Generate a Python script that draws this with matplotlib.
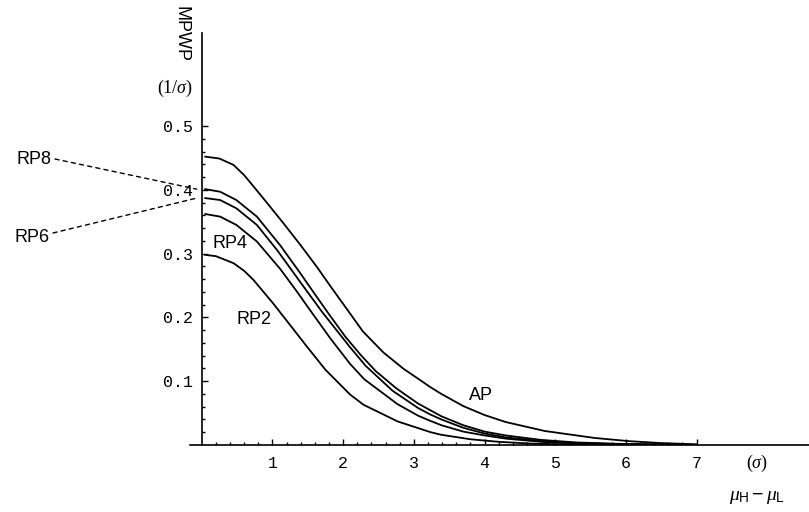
"""
plot.py - MPWP versus mean shift (mu_H - mu_L) for the AP and RP2..RP8 charts.
"""

import numpy as np
import matplotlib
matplotlib.use('Agg')
import matplotlib.pyplot as plt

# ── Data ───────────────────────────────────────────────────────────────────────
x_ap = [0.05, 0.25, 0.45, 0.6, 0.75, 0.92, 1.16, 1.4, 1.63, 1.82, 2.06, 2.28, 2.57,
        2.86, 3.06, 3.23, 3.39, 3.7, 4.0, 4.3, 4.85, 5.56, 6.05, 6.5, 7.0]
y_ap = [0.452, 0.449, 0.439, 0.423, 0.403, 0.380, 0.347, 0.313, 0.279, 0.249, 0.212,
        0.178, 0.145, 0.119, 0.104, 0.091, 0.080, 0.061, 0.047, 0.036, 0.022, 0.011,
        0.006, 0.003, 0.001]

x_rp8 = [0.05, 0.26, 0.49, 0.78, 1.11, 1.39, 1.54, 1.8, 2.03, 2.25, 2.46, 2.75, 3.06,
         3.39, 3.7, 4.0, 4.3, 4.8, 5.3, 6.0, 7.0]
y_rp8 = [0.401, 0.397, 0.384, 0.358, 0.313, 0.270, 0.246, 0.205, 0.170, 0.141, 0.116,
         0.089, 0.065, 0.045, 0.031, 0.021, 0.015, 0.008, 0.004, 0.0015, 0.0003]

x_rp6 = [0.05, 0.26, 0.49, 0.78, 1.07, 1.39, 1.7, 2.0, 2.1, 2.32, 2.7, 3.06, 3.23,
         3.39, 3.7, 4.0, 4.3, 4.8, 5.3, 6.0, 7.0]
y_rp6 = [0.387, 0.384, 0.371, 0.345, 0.305, 0.256, 0.209, 0.167, 0.153, 0.124, 0.085,
         0.058, 0.048, 0.040, 0.027, 0.018, 0.012, 0.006, 0.003, 0.001, 0.0002]

x_rp4 = [0.05, 0.26, 0.49, 0.78, 1.11, 1.35, 1.49, 1.82, 2.1, 2.3, 2.77, 3.06, 3.23,
         3.39, 3.7, 4.0, 4.3, 4.8, 5.3, 6.0, 7.0]
y_rp4 = [0.362, 0.358, 0.345, 0.319, 0.276, 0.240, 0.218, 0.167, 0.127, 0.103, 0.064,
         0.046, 0.038, 0.031, 0.021, 0.015, 0.010, 0.005, 0.0025, 0.001, 0.0002]

x_rp2 = [0.05, 0.2, 0.45, 0.6, 0.73, 1.01, 1.3, 1.49, 1.75, 2.1, 2.29, 2.77, 3.24,
         3.39, 3.8, 4.2, 4.7, 5.2, 6.0, 7.0]
y_rp2 = [0.298, 0.296, 0.285, 0.273, 0.259, 0.222, 0.181, 0.154, 0.118, 0.079, 0.063,
         0.037, 0.020, 0.016, 0.009, 0.005, 0.002, 0.001, 0.0003, 0.0001]

x_major = [1, 2, 3, 4, 5, 6, 7]
y_major = [0.1, 0.2, 0.3, 0.4, 0.5]
y_labels = ['0.1', '0.2', '0.3', '0.4', '0.5']

# ── Layout (reference is 809x512 px) ───────────────────────────────────────────
W, H = 809, 512
X0_PX, UNIT_X = 201.7, 70.7      # pixel of x=0, pixels per unit
Y0_PX, UNIT_Y = 445.0, 638.0     # pixel of y=0, pixels per unit
TOP_PX, LEFT_PX = 33, 190

# serif italic greek, sans upright subscripts
plt.rcParams['mathtext.fontset'] = 'custom'
plt.rcParams['mathtext.it'] = 'Liberation Serif:italic'
plt.rcParams['mathtext.rm'] = 'Liberation Sans'
plt.rcParams['mathtext.sf'] = 'Liberation Sans'


def fpx(x, y):
    # reference pixel (top-left origin) -> figure fraction
    return x / W, 1 - y / H


def main():
    fig = plt.figure(figsize=(W / 100, H / 100), dpi=100)
    ax = fig.add_axes([LEFT_PX / W, (H - Y0_PX) / H, (W - LEFT_PX) / W, (Y0_PX - TOP_PX) / H])
    ax.set_xlim((LEFT_PX - X0_PX) / UNIT_X, (W - X0_PX) / UNIT_X)
    ax.set_ylim(0, (Y0_PX - TOP_PX) / UNIT_Y)

    for xs, ys in [(x_ap, y_ap), (x_rp8, y_rp8), (x_rp6, y_rp6), (x_rp4, y_rp4), (x_rp2, y_rp2)]:
        ax.plot(xs, ys, color='black', linewidth=1.3, solid_joinstyle='round')

    # axes through the origin, Mathematica style
    for side in ['top', 'right']:
        ax.spines[side].set_visible(False)
    ax.spines['left'].set_position(('data', 0))
    ax.spines['bottom'].set_position(('data', 0))
    for side in ['left', 'bottom']:
        ax.spines[side].set_linewidth(1.2)

    ax.set_xticks(x_major)
    ax.set_xticks([v for v in np.arange(0.2, 7.0, 0.2) if abs(v - round(v)) > 1e-6], minor=True)
    ax.set_yticks(y_major)
    ax.set_yticklabels(y_labels)
    ax.set_yticks([v for v in np.arange(0.02, 0.5, 0.02) if abs(v * 10 - round(v * 10)) > 1e-6], minor=True)
    ax.tick_params(which='both', direction='in', width=1.0, labelsize=12)
    ax.tick_params(which='major', length=4.5)
    ax.tick_params(which='minor', length=2.5)
    ax.tick_params(axis='x', pad=8)
    ax.tick_params(axis='y', pad=6)
    for lab in ax.get_xticklabels() + ax.get_yticklabels():
        lab.set_family('Liberation Mono')

    # axis labels
    fig.text(*fpx(181, 34), 'MPWP', rotation=-90, ha='center', va='center',
             fontsize=13, family='Liberation Sans')
    fig.text(*fpx(175, 88), r'(1/$\sigma$)', ha='center', va='center', fontsize=13,
             family='Liberation Serif')
    fig.text(*fpx(757, 463), r'($\sigma$)', ha='center', va='center', fontsize=13,
             family='Liberation Serif')
    fig.text(*fpx(757, 496), r'$\mu_{\mathrm{H}}-\mu_{\mathrm{L}}$', ha='center', va='center',
             fontsize=14)

    # curve labels
    lab_kw = dict(fontsize=13, family='Liberation Sans', va='center')
    fig.text(*fpx(52, 160), 'RP8', ha='right', **lab_kw)
    fig.text(*fpx(50, 238), 'RP6', ha='right', **lab_kw)
    fig.text(*fpx(230, 244), 'RP4', ha='center', **lab_kw)
    fig.text(*fpx(272, 320), 'RP2', ha='right', **lab_kw)
    fig.text(*fpx(481, 395), 'AP', ha='center', **lab_kw)

    # dashed leader lines from the RP8 / RP6 labels to the curve starts
    lead = dict(arrowstyle='-', linestyle=(0, (3, 3)), linewidth=1.0, color='black',
                shrinkA=0, shrinkB=0)
    ax.annotate('', xy=(-0.07, y_rp8[0]), xycoords='data', xytext=(55, H - 159),
                textcoords='figure pixels', arrowprops=lead, annotation_clip=False)
    ax.annotate('', xy=(-0.07, y_rp6[0]), xycoords='data', xytext=(53, H - 233),
                textcoords='figure pixels', arrowprops=lead, annotation_clip=False)

    fig.savefig('out.png', dpi=100)
    plt.close(fig)


if __name__ == '__main__':
    main()
